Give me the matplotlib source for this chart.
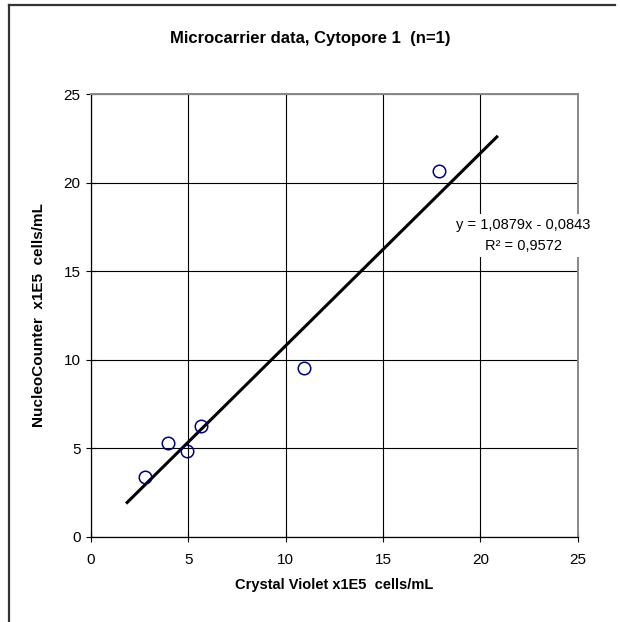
import matplotlib as mpl
mpl.use('Agg')
import matplotlib.pyplot as plt
from matplotlib.lines import Line2D

plt.rcParams['font.family'] = ['Liberation Sans', 'DejaVu Sans']

# data
crystal_violet = [2.77, 3.97, 4.91, 5.65, 10.94, 17.87]
nucleo_counter = [3.36, 5.31, 4.84, 6.27, 9.53, 20.68]
slope = 1.0879
intercept = -0.0843
r2 = 0.9572
trend_x = [1.8, 20.9]
ticks = [0, 5, 10, 15, 20, 25]

fig = plt.figure(figsize=(6.2, 6.22), dpi=100)
ax = fig.add_axes([0.1468, 0.1371, 0.785, 0.7113])

# outer chart frame (only top and left visible in the crop)
fig.add_artist(Line2D([9/620, 615/620], [1-5/622, 1-5/622], color='#333333', lw=1.6))
fig.add_artist(Line2D([9/620, 9/620], [1-5/622, 0], color='#333333', lw=1.6))

ax.set_xlim(0, 25)
ax.set_ylim(0, 25)
ax.set_xticks(ticks)
ax.set_yticks(ticks)
ax.grid(True, color='black', lw=0.8)
ax.set_axisbelow(True)

trend_y = [slope * v + intercept for v in trend_x]
ax.plot(trend_x, trend_y, color='black', lw=2.2, solid_capstyle='butt', zorder=3)
ax.plot(crystal_violet, nucleo_counter, 'o', mfc='none', mec='#000080',
        ms=9, mew=1.1, zorder=4)

eq = 'y = {}x - {}\nR\u00b2 = {}'.format(str(slope).replace('.', ','),
                                        str(-intercept).replace('.', ','),
                                        str(r2).replace('.', ','))
ax.text(0.888, 0.681, eq, transform=ax.transAxes, ha='center', va='center',
        fontsize=10.5, linespacing=1.6, zorder=5,
        bbox=dict(facecolor='white', edgecolor='none', pad=3))

for side in ['top', 'right']:
    ax.spines[side].set_color('#888888')
    ax.spines[side].set_linewidth(1.4)
for side in ['left', 'bottom']:
    ax.spines[side].set_color('black')
    ax.spines[side].set_linewidth(0.9)

ax.tick_params(direction='inout', length=7, width=0.8, labelsize=11, pad=4)
ax.tick_params(axis='x', pad=8)

ax.set_xlabel('Crystal Violet x1E5  cells/mL', fontsize=10.5, fontweight='bold', labelpad=8)
ax.set_ylabel('NucleoCounter  x1E5  cells/mL', fontsize=11, fontweight='bold', labelpad=13)
fig.text(0.5, 1 - 38/622, 'Microcarrier data, Cytopore 1  (n=1)', ha='center', va='center',
         fontsize=12, fontweight='bold')

fig.savefig('out.png', dpi=100)
plt.close()
